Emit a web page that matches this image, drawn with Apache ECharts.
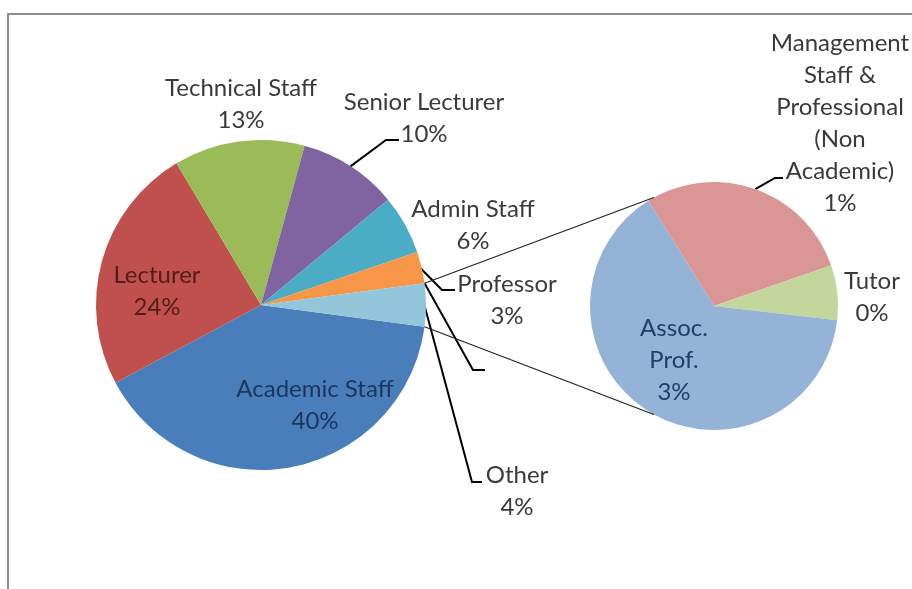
<!DOCTYPE html>
<html><head><meta charset="utf-8">
<script src="https://cdn.jsdelivr.net/npm/echarts@6/dist/echarts.min.js"></script>
<style>html,body{margin:0;padding:0;background:#fff}#c{width:912px;height:589px}</style>
</head><body><div id="c"></div>
<script>
// ---- data ----
const mainCategories = ['Academic Staff', 'Lecturer', 'Technical Staff', 'Senior Lecturer', 'Admin Staff', 'Professor'];
const mainValues = [40.0, 24.2, 12.8, 9.7, 5.8, 3.1];
const otherCategory = 'Other';
const subCategories = ['Management Staff & Professional (Non Academic)', 'Tutor', 'Assoc. Prof.'];
const subValues = [1.2, 0.3, 2.7];
const subLabelText = ['Management\nStaff &\nProfessional\n(Non\nAcademic)', 'Tutor', 'Assoc.\nProf.'];

// ---- styles ----
const mainColors = ['#4A7EBB', '#C0504D', '#9BBB59', '#8064A2', '#4BACC6', '#F79646', '#93C6DB'];
const subColors = ['#D99694', '#C3D69B', '#95B3D7'];
const FONT = 'Lato';
const FS = 24;
const LH = 32;

const otherValue = subValues.reduce((a, b) => a + b, 0);
const grandTotal = mainValues.reduce((a, b) => a + b, 0) + otherValue;
const pct = v => Math.round(v / grandTotal * 100) + '%';

const MAIN = { cx: 261, cy: 305, r: 165 };
const SUB = { cx: 714, cy: 306, r: 124, start: 122 };
const otherDeg = otherValue / grandTotal * 360;
const mainStart = -otherDeg / 2;
const mainAll = mainValues.concat([otherValue]);
const mainNames = mainCategories.concat([otherCategory]);

function sliceAngles(values, start, total) {
  let cum = 0;
  return values.map(v => {
    const a0 = start - cum / total * 360; cum += v;
    const a1 = start - cum / total * 360;
    return { a0, a1 };
  });
}
const mainAng = sliceAngles(mainAll, mainStart, grandTotal);
const subAng = sliceAngles(subValues, SUB.start, otherValue);
function pt(g, deg, k) {
  const t = deg * Math.PI / 180;
  return [g.cx + g.r * k * Math.cos(t), g.cy - g.r * k * Math.sin(t)];
}

// label centres and leader line settings
const mainSpec = [
  { x: 315, y: 405, color: '#1a355e' },
  { x: 157, y: 291, color: '#531c1b' },
  { x: 241, y: 104 },
  { x: 424, y: 118, lead: { k: 1.0, at: 0.5, dx: -25, dy: 22, seg: 13 } },
  { x: 473, y: 225 },
  { x: 507, y: 300, lead: { k: 0.99, at: 0.5, dx: -52, dy: -10, seg: 13 } },
  { x: 517, y: 491, lead: { k: 0.99, at: 0.5, dx: -35, dy: -9, seg: 10 } }
];
const straySpec = { x: 490, y: 370, lead: { k: 1.0, at: 1, dx: -5, dy: 0, seg: 12 } };
const subSpec = [
  { x: 840, y: 123, lead: { k: 1.0, at: 0.5, dx: -57, dy: 55, seg: 8 } },
  { x: 872, y: 297 },
  { x: 674, y: 360, color: '#233d66' }
];

function makeLayout(specs, geom, angles) {
  return function (params) {
    const s = specs[params.dataIndex];
    if (!s) return {};
    const out = { x: s.x, y: s.y, align: 'center', verticalAlign: 'middle' };
    if (s.lead) {
      const a = angles[params.dataIndex];
      const ang = a.a0 + (a.a1 - a.a0) * s.lead.at;
      const p0 = pt(geom, ang, s.lead.k);
      const p2 = [s.x + s.lead.dx, s.y + s.lead.dy];
      const p1 = [p2[0] - s.lead.seg, p2[1]];
      out.labelLinePoints = [p0, p1, p2];
    }
    return out;
  };
}

const baseLabel = {
  show: true, position: 'outside', alignTo: 'none', overflow: 'none',
  fontFamily: FONT, fontSize: FS, lineHeight: LH, color: '#3a3a3a'
};
const baseLine = { show: false, smooth: false, lineStyle: { color: '#000', width: 2 } };

const mainData = mainAll.map((v, i) => ({
  name: mainNames[i], value: v,
  itemStyle: { color: mainColors[i] },
  label: { color: mainSpec[i].color || '#3a3a3a' },
  labelLine: { show: !!mainSpec[i].lead }
}));
const strayData = mainAll.map((v, i) => ({
  name: mainNames[i], value: v,
  label: { show: i === 5 },
  labelLine: { show: i === 5 }
}));
const subData = subValues.map((v, i) => ({
  name: subCategories[i], value: v,
  itemStyle: { color: subColors[i] },
  label: { color: subSpec[i].color || '#3a3a3a' },
  labelLine: { show: !!subSpec[i].lead }
}));

// connector lines between the "Other" slice and the secondary pie
const otherA = mainAng[mainAng.length - 1];
const cTop0 = pt(MAIN, otherA.a0, 1), cTop1 = pt(SUB, 119, 1);
const cBot0 = pt(MAIN, otherA.a1, 1), cBot1 = pt(SUB, -119, 1);

const chart = echarts.init(document.getElementById('c'), null, { renderer: 'canvas' });
chart.setOption({
  animation: false,
  backgroundColor: '#ffffff',
  graphic: [
    { type: 'rect', shape: { x: 8, y: 14, width: 1000, height: 700 }, style: { fill: 'none', stroke: '#8c8c8c', lineWidth: 2 }, z: 0 },
    { type: 'line', shape: { x1: cTop0[0], y1: cTop0[1], x2: cTop1[0], y2: cTop1[1] }, style: { stroke: '#222', lineWidth: 1.2 }, z: 10 },
    { type: 'line', shape: { x1: cBot0[0], y1: cBot0[1], x2: cBot1[0], y2: cBot1[1] }, style: { stroke: '#222', lineWidth: 1.2 }, z: 10 }
  ],
  series: [
    {
      type: 'pie', name: 'main', center: [MAIN.cx, MAIN.cy], radius: MAIN.r,
      startAngle: mainStart, clockwise: true, avoidLabelOverlap: false, silent: true,
      data: mainData,
      label: Object.assign({}, baseLabel, { formatter: p => p.name + '\n' + pct(p.value) }),
      labelLine: baseLine,
      labelLayout: makeLayout(mainSpec, MAIN, mainAng)
    },
    {
      type: 'pie', name: 'leader', center: [MAIN.cx, MAIN.cy], radius: MAIN.r,
      startAngle: mainStart, clockwise: true, avoidLabelOverlap: false, silent: true,
      itemStyle: { color: 'rgba(0,0,0,0)' },
      data: strayData,
      label: Object.assign({}, baseLabel, { formatter: () => ' ' }),
      labelLine: baseLine,
      labelLayout: makeLayout(strayData.map((d, i) => i === 5 ? straySpec : null), MAIN, mainAng)
    },
    {
      type: 'pie', name: 'sub', center: [SUB.cx, SUB.cy], radius: SUB.r,
      startAngle: SUB.start, clockwise: true, avoidLabelOverlap: false, silent: true,
      data: subData,
      label: Object.assign({}, baseLabel, { formatter: p => subLabelText[p.dataIndex] + '\n' + pct(p.value) }),
      labelLine: baseLine,
      labelLayout: makeLayout(subSpec, SUB, subAng)
    }
  ]
});
</script></body></html>
